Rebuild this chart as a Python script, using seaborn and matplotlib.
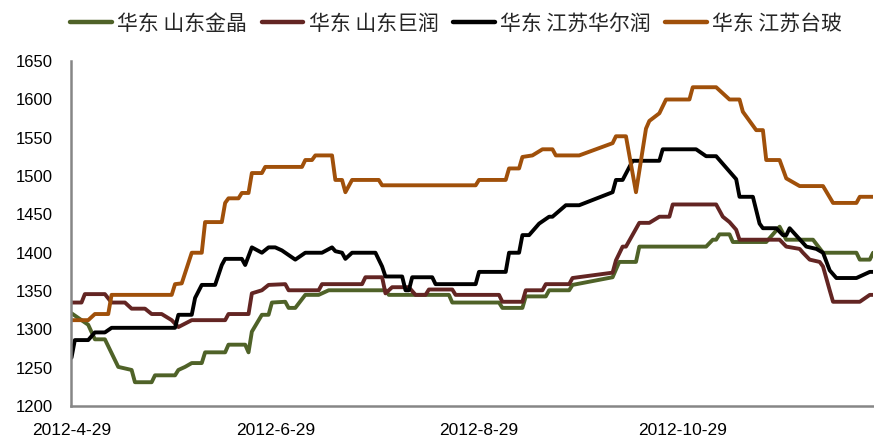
import matplotlib
matplotlib.use("Agg")
import matplotlib.pyplot as plt
import seaborn as sns
import pandas as pd
import numpy as np

# ---- data ----
start_date = "2012-04-29"
end_date = "2012-12-25"

series_names = ["华东 山东金晶", "华东 山东巨润", "华东 江苏华尔润", "华东 江苏台玻"]
series_colors = ["#4F6228", "#632523", "#000000", "#A0500A"]

# day offsets from 2012-04-29 and prices
green_days = [0, 5, 7, 10, 12, 14, 18, 19, 24, 25, 31, 32, 34, 36, 39, 40, 46, 47, 52, 53, 54, 57, 59, 60,
              64, 65, 67, 70, 74, 77, 94, 95, 113, 114, 128, 129, 135, 136, 142, 143, 149, 150, 162, 164,
              169, 170, 190, 192, 193, 194, 197, 198, 208, 212, 214, 222, 225, 235, 236, 239, 240]
green_vals = [1321, 1306, 1287, 1287, 1269, 1251, 1247, 1231, 1231, 1240, 1240, 1247, 1251, 1256, 1256, 1270,
              1270, 1280, 1280, 1270, 1297, 1319, 1319, 1335, 1336, 1328, 1328, 1345, 1345, 1351, 1351, 1345,
              1345, 1335, 1335, 1328, 1328, 1343, 1343, 1351, 1351, 1358, 1368, 1388, 1388, 1408, 1408, 1417,
              1417, 1424, 1424, 1414, 1414, 1434, 1417, 1417, 1400, 1400, 1391, 1391, 1400]

red_days = [0, 3, 4, 10, 12, 16, 18, 22, 24, 27, 30, 32, 36, 46, 47, 53, 54, 57, 59, 64, 65, 74, 75, 87, 88,
            93, 94, 96, 101, 103, 106, 107, 114, 115, 128, 129, 135, 136, 141, 142, 149, 150, 162, 163, 165,
            166, 170, 173, 176, 179, 180, 193, 195, 197, 199, 200, 212, 214, 218, 219, 221, 224, 225, 227,
            228, 236, 239, 240]
red_vals = [1335, 1335, 1346, 1346, 1335, 1335, 1327, 1327, 1320, 1320, 1312, 1303, 1312, 1312, 1320, 1320,
            1347, 1351, 1358, 1359, 1351, 1351, 1359, 1359, 1368, 1368, 1347, 1355, 1355, 1345, 1345, 1352,
            1352, 1345, 1345, 1336, 1336, 1351, 1351, 1359, 1359, 1367, 1374, 1390, 1408, 1408, 1439, 1439,
            1447, 1447, 1463, 1463, 1447, 1440, 1430, 1417, 1417, 1408, 1405, 1400, 1391, 1388, 1382, 1351,
            1336, 1336, 1345, 1345]

black_days = [0, 1, 5, 7, 10, 12, 31, 32, 36, 37, 39, 43, 45, 46, 51, 52, 54, 57, 59, 61, 63, 65, 67, 70, 75,
              78, 79, 81, 82, 84, 91, 93, 94, 99, 100, 101, 102, 108, 109, 121, 122, 130, 131, 134, 135, 137,
              140, 143, 144, 148, 152, 162, 163, 165, 168, 176, 177, 187, 190, 193, 199, 200, 204, 206, 207,
              211, 213, 214, 215, 220, 223, 225, 227, 229, 235, 239, 240]
black_vals = [1263, 1286, 1286, 1296, 1296, 1302, 1302, 1319, 1319, 1341, 1358, 1358, 1384, 1392, 1392, 1384,
              1407, 1400, 1407, 1407, 1403, 1397, 1391, 1400, 1400, 1407, 1402, 1400, 1392, 1400, 1400, 1382,
              1369, 1369, 1351, 1351, 1368, 1368, 1359, 1359, 1375, 1375, 1400, 1400, 1423, 1423, 1438, 1447,
              1447, 1462, 1462, 1479, 1495, 1495, 1520, 1520, 1535, 1535, 1526, 1526, 1496, 1473, 1473, 1438,
              1432, 1432, 1423, 1423, 1432, 1408, 1405, 1400, 1377, 1367, 1367, 1375, 1375]

orange_days = [0, 5, 7, 11, 12, 30, 31, 33, 36, 39, 40, 45, 46, 47, 50, 51, 53, 54, 57, 58, 69, 70, 72, 73, 78,
               79, 81, 82, 84, 92, 93, 121, 122, 130, 131, 134, 135, 138, 141, 144, 145, 152, 162, 163, 166,
               169, 172, 173, 176, 178, 185, 186, 193, 197, 200, 201, 205, 207, 208, 212, 214, 218, 225, 228,
               235, 236, 240]
orange_vals = [1312, 1312, 1320, 1320, 1345, 1345, 1359, 1360, 1400, 1400, 1440, 1440, 1465, 1471, 1471, 1478,
               1478, 1504, 1504, 1512, 1512, 1521, 1521, 1527, 1527, 1495, 1495, 1479, 1495, 1495, 1488, 1488,
               1495, 1495, 1510, 1510, 1525, 1527, 1535, 1535, 1527, 1527, 1543, 1552, 1552, 1479, 1562, 1572,
               1582, 1600, 1600, 1616, 1616, 1600, 1600, 1584, 1560, 1560, 1521, 1521, 1497, 1487, 1487, 1465,
               1465, 1473, 1473]

x_tick_dates = ["2012-04-29", "2012-06-29", "2012-08-29", "2012-10-29"]
x_tick_labels = ["2012-4-29", "2012-6-29", "2012-8-29", "2012-10-29"]
y_ticks = [1200, 1250, 1300, 1350, 1400, 1450, 1500, 1550, 1600, 1650]

# ---- build long table ----
base = pd.Timestamp(start_date)
frames = []
for name, days, vals in zip(series_names,
                            [green_days, red_days, black_days, orange_days],
                            [green_vals, red_vals, black_vals, orange_vals]):
    frames.append(pd.DataFrame({
        "date": base + pd.to_timedelta(days, unit="D"),
        "price": vals,
        "series": name,
    }))
df = pd.concat(frames, ignore_index=True)

sns.set_style("white")
plt.rcParams["font.family"] = ["Noto Sans CJK SC", "DejaVu Sans"]

fig = plt.figure(figsize=(8.74, 4.37), dpi=100)
ax = fig.add_axes([0.0818, 0.071, 0.9172, 0.789])

sns.lineplot(data=df, x="date", y="price", hue="series", hue_order=series_names,
             palette=series_colors, linewidth=2.8, ax=ax, estimator=None, sort=False)

tick_font = ["Liberation Sans", "DejaVu Sans"]
ax.set_xlim(pd.Timestamp(start_date), pd.Timestamp(end_date))
ax.set_ylim(1200, 1650)
ax.set_yticks(y_ticks)
ax.set_yticklabels([str(v) for v in y_ticks], fontsize=12, family=tick_font)
ax.set_xticks(pd.to_datetime(x_tick_dates))
ax.set_xticklabels(x_tick_labels, fontsize=12.5, family=tick_font)
ax.set_xlabel("")
ax.set_ylabel("")

for s in ["top", "right"]:
    ax.spines[s].set_visible(False)
for s in ["left", "bottom"]:
    ax.spines[s].set_color("#868686")
    ax.spines[s].set_linewidth(1.8)
ax.tick_params(axis="both", direction="out", width=1.8, color="#868686", labelcolor="black")
ax.tick_params(axis="y", length=7.5, pad=6)
ax.tick_params(axis="x", length=4, pad=8)

leg = ax.legend(loc="upper center", bbox_to_anchor=(0.522, 0.99), bbox_transform=fig.transFigure,
                ncol=4, frameon=False, fontsize=15, handlelength=2.0, handletextpad=0.25,
                columnspacing=0.7, borderaxespad=0)
for line in leg.get_lines():
    line.set_linewidth(3.2)

fig.savefig("out.png", dpi=100)
